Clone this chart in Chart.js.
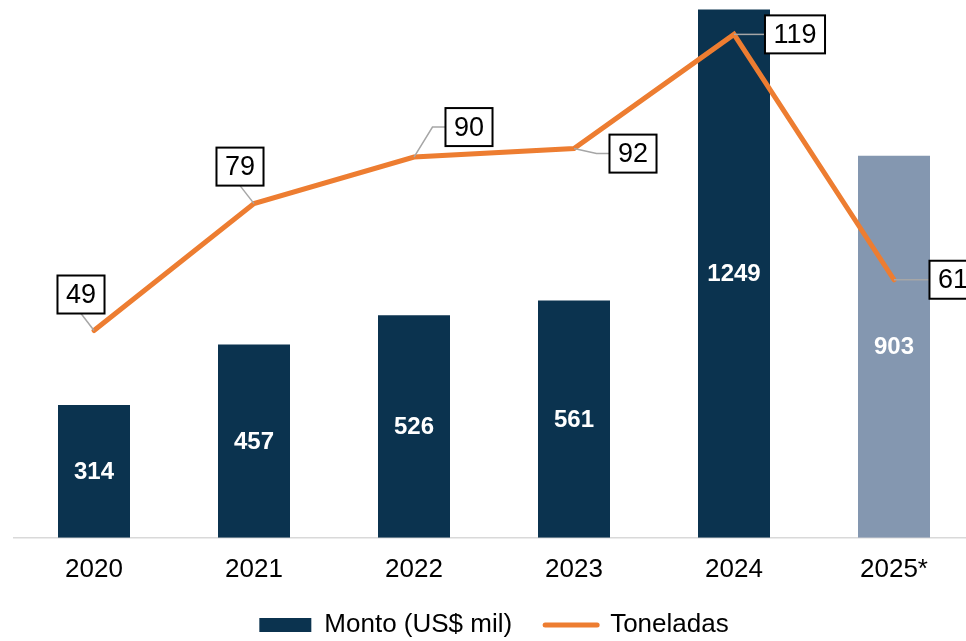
<!DOCTYPE html>
<html>
<head>
<meta charset="utf-8">
<script src="https://cdn.jsdelivr.net/npm/chart.js"></script>
<style>
  html, body { margin: 0; padding: 0; background: #fff; overflow: hidden; }
  /* a bit larger than the window: the last label box runs off the right edge */
  #wrap { width: 988px; height: 648px; }
</style>
</head>
<body>
<div id="wrap"><canvas id="chart"></canvas></div>
<script>
const years = ['2020', '2021', '2022', '2023', '2024', '2025*'];
const montoValues = [314, 457, 526, 561, 1249, 903];
const toneladasValues = [49, 79, 90, 92, 119, 61];
const montoLabel = 'Monto (US$ mil)';
const toneladasLabel = 'Toneladas';

const navy = '#0b334f';
const barColors = [navy, navy, navy, navy, navy, '#8497b0'];
const orange = '#ed7d31';
const FONT = '"Liberation Sans", Arial, sans-serif';

// where each line label box sits, relative to its point (px)
const boxOffsets = [[-13, -36], [-14, -37], [55, -30], [59, 5], [61, 0], [59, 0]];

// white numbers inside bars + boxed callouts for the line
const valueLabels = {
  id: 'valueLabels',
  afterDatasetsDraw(chart) {
    const ctx = chart.ctx;
    ctx.save();
    ctx.textAlign = 'center';
    ctx.textBaseline = 'middle';

    ctx.font = 'bold 24px ' + FONT;
    ctx.fillStyle = '#fff';
    chart.getDatasetMeta(0).data.forEach((bar, i) => {
      ctx.fillText(String(montoValues[i]), bar.x, (bar.y + bar.base) / 2 + 1);
    });

    ctx.font = '27px ' + FONT;
    chart.getDatasetMeta(1).data.forEach((p, i) => {
      const txt = String(toneladasValues[i]);
      const w = ctx.measureText(txt).width + 17;
      const h = 38;
      const cx = p.x + boxOffsets[i][0];
      const cy = p.y + boxOffsets[i][1];
      const left = cx - w / 2, top = cy - h / 2;

      ctx.strokeStyle = '#a6a6a6';
      ctx.lineWidth = 1.5;
      ctx.beginPath();
      ctx.moveTo(p.x, p.y);
      if (boxOffsets[i][0] > 30) {
        ctx.lineTo(left - 13, cy);
        ctx.lineTo(left, cy);
      } else {
        ctx.lineTo(cx, top + h);
      }
      ctx.stroke();

      ctx.fillStyle = '#fff';
      ctx.fillRect(left, top, w, h);
      ctx.strokeStyle = '#000';
      ctx.lineWidth = 2;
      ctx.strokeRect(left, top, w, h);
      ctx.fillStyle = '#000';
      ctx.fillText(txt, cx, cy + 1);
    });
    ctx.restore();
  }
};

new Chart(document.getElementById('chart'), {
  data: {
    labels: years,
    datasets: [
      {
        type: 'bar',
        label: montoLabel,
        data: montoValues,
        backgroundColor: barColors,
        yAxisID: 'y',
        order: 1,
        categoryPercentage: 0.45,
        barPercentage: 1
      },
      {
        type: 'line',
        label: toneladasLabel,
        data: toneladasValues,
        borderColor: orange,
        backgroundColor: orange,
        borderWidth: 5,
        borderCapStyle: 'round',
        pointRadius: 0,
        tension: 0,
        yAxisID: 'y1',
        order: 0
      }
    ]
  },
  options: {
    responsive: true,
    maintainAspectRatio: false,
    animation: false,
    layout: { padding: { left: 14, right: 14, top: 9, bottom: 0 } },
    scales: {
      x: {
        offset: true,
        grid: { display: false, drawTicks: false },
        border: { display: true, color: '#d9d9d9', width: 1.5 },
        ticks: { color: '#000', font: { size: 26, family: FONT }, padding: 16, maxRotation: 0, autoSkip: false },
        afterFit(scale) { scale.height -= 22; }
      },
      y: { display: false, min: 0, max: 1250 },
      y1: { display: false, min: 0, max: 125, position: 'right' }
    },
    plugins: {
      tooltip: { enabled: false },
      legend: {
        position: 'bottom',
        labels: {
          usePointStyle: true,
          pointStyleWidth: 52,
          boxHeight: 14,
          color: '#000',
          padding: 33,
          font: { size: 26, family: FONT },
          generateLabels: () => [
            { text: montoLabel, fillStyle: navy, strokeStyle: navy, lineWidth: 0, pointStyle: 'rect', datasetIndex: 0 },
            { text: toneladasLabel, fillStyle: orange, strokeStyle: orange, lineWidth: 5, lineCap: 'round', pointStyle: 'line', datasetIndex: 1 }
          ]
        }
      }
    }
  },
  plugins: [valueLabels]
});
</script>
</body>
</html>
